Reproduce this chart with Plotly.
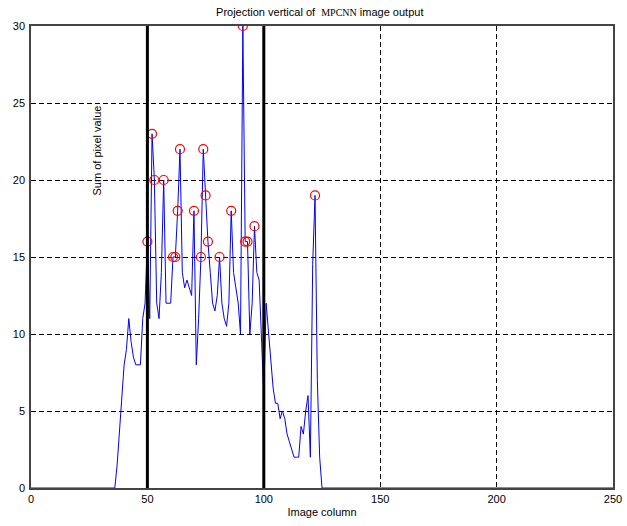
import plotly.graph_objects as go

# ---- data ----
columns = list(range(0, 251))
nonzero_start = 37
profile = [
    1.5, 3.5, 5.5, 8, 9, 11, 9.5, 8.5, 8, 8, 8, 11, 12,          # 37-49
    16, 11, 23, 20, 12, 11, 14, 20, 12, 12, 12, 15, 15, 18, 22,   # 50-64
    14, 13, 13.5, 13, 12.5, 18, 8, 11, 15, 22, 19, 16, 14, 12,    # 65-78
    11.5, 12.5, 15, 12, 11, 10.5, 12, 18, 14, 13, 12, 10, 30,     # 79-91
    16, 16, 10, 12, 17, 14, 13.5, 10, 6, 12, 10, 8, 6.5, 5.5,     # 92-105
    5.5, 4.5, 5, 4.5, 3.5, 3, 2.5, 2, 2, 2, 4, 3.5, 5, 6, 2,      # 106-120
    14.5, 19, 7, 2,                                               # 121-124
]
pixel_sum = [0.0] * len(columns)
for i, v in enumerate(profile):
    pixel_sum[nonzero_start + i] = v

peak_threshold = 15
peak_x = [c for c, v in zip(columns, pixel_sum) if v >= peak_threshold]
peak_y = [v for v in pixel_sum if v >= peak_threshold]

boundaries = [50, 100]
x_ticks = [0, 50, 100, 150, 200, 250]
y_ticks = [0, 5, 10, 15, 20, 25, 30]

title_text = ('Projection vertical of  <span style="font-family:Liberation Serif;'
              'font-size:10px">MPCNN</span> image output')
x_title = "Image column"
y_title = "Sum of pixel value"

FONT = "Liberation Sans, Arial, sans-serif"

fig = go.Figure()
fig.add_trace(go.Scatter(x=columns, y=pixel_sum, mode="lines",
                         line=dict(color="#0000ff", width=1), hoverinfo="skip"))
fig.add_trace(go.Scatter(x=peak_x, y=peak_y, mode="markers",
                         marker=dict(symbol="circle-open", color="#ff0000", size=9,
                                     line=dict(width=1.2, color="#ff0000"))))
for b in boundaries:
    fig.add_vline(x=b, line=dict(color="black", width=3))

fig.update_layout(
    width=627, height=526,
    margin=dict(l=31, r=14, t=26, b=38, autoexpand=False),
    paper_bgcolor="white", plot_bgcolor="white",
    showlegend=False,
    font=dict(family=FONT, size=11, color="black"),
    title=dict(text=title_text, x=0.51, xanchor="center", y=0.985, yanchor="top",
               font=dict(family=FONT, size=11), automargin=False),
    xaxis=dict(range=[0, 250], tickvals=x_ticks, showgrid=True, gridcolor="black",
               griddash="5px,3px", gridwidth=1, zeroline=False, showline=True,
               linecolor="#444", linewidth=1.5, mirror=True, ticks="",
               automargin=False,
               title=dict(text=x_title, standoff=4, font=dict(size=11))),
    yaxis=dict(range=[0, 30], tickvals=y_ticks, showgrid=True, gridcolor="black",
               griddash="5px,3px", gridwidth=1, zeroline=False, showline=True,
               linecolor="#444", linewidth=1.5, mirror=True, ticks="",
               automargin=False, ticklabelstandoff=2),
    annotations=[dict(text=y_title, xref="paper", yref="paper",
                      x=0.113, y=0.73, xanchor="center", yanchor="middle",
                      textangle=-90, showarrow=False,
                      font=dict(family=FONT, size=11))],
)

fig.write_html("out.html", config={"displayModeBar": False},
               post_script="document.body.style.margin='0px';"
                           "document.body.style.overflow='hidden';")
